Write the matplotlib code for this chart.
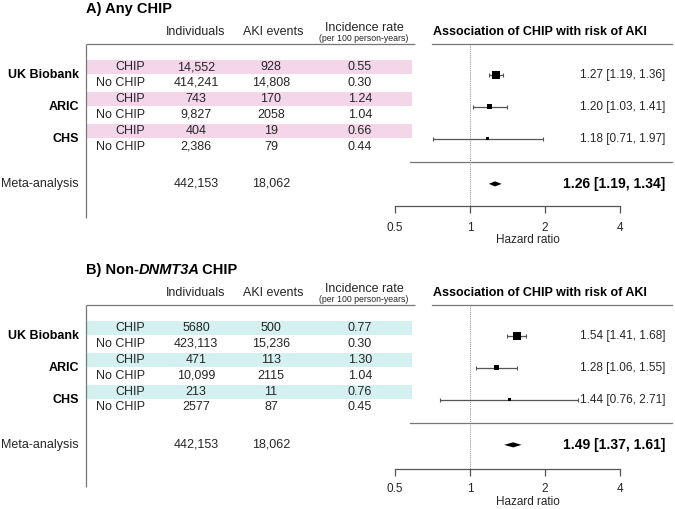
import matplotlib
matplotlib.use("Agg")
import matplotlib.pyplot as plt
import numpy as np
from matplotlib.ticker import FixedLocator, FixedFormatter, NullLocator

plt.rcParams['font.family'] = ['Liberation Sans', 'DejaVu Sans']

# ---------------- data ----------------
studies = ["UK Biobank", "ARIC", "CHS"]
groups = ["CHIP", "No CHIP"]
col_headers = ["Individuals", "AKI events", "Incidence rate"]
ir_sub = "(per 100 person-years)"
meta_label = "Meta-analysis"
forest_title = "Association of CHIP with risk of AKI"
xlabel = "Hazard ratio"
xticks = [0.5, 1, 2, 4]
xtick_labels = ["0.5", "1", "2", "4"]

a_title = "A) Any CHIP"
a_individuals = ["14,552", "414,241", "743", "9,827", "404", "2,386"]
a_events = ["928", "14,808", "170", "2058", "19", "79"]
a_ir = ["0.55", "0.30", "1.24", "1.04", "0.66", "0.44"]
a_meta_individuals = "442,153"
a_meta_events = "18,062"
a_hr = [1.27, 1.20, 1.18]
a_lo = [1.19, 1.03, 0.71]
a_hi = [1.36, 1.41, 1.97]
a_meta = [1.26, 1.19, 1.34]

b_title = ["B) Non-", "DNMT3A", " CHIP"]
b_individuals = ["5680", "423,113", "471", "10,099", "213", "2577"]
b_events = ["500", "15,236", "113", "2115", "11", "87"]
b_ir = ["0.77", "0.30", "1.30", "1.04", "0.76", "0.45"]
b_meta_individuals = "442,153"
b_meta_events = "18,062"
b_hr = [1.54, 1.28, 1.44]
b_lo = [1.41, 1.06, 0.76]
b_hi = [1.68, 1.55, 2.71]
b_meta = [1.49, 1.37, 1.61]

# ---------------- layout ----------------
W, H = 675, 509
UNIT = 15.9          # px per row
PX_PER_DOUBLING = 75
X_ONE = 470          # px of HR = 1
FX_LEFT, FX_RIGHT = 380, 675
TXT = '#262626'
LINE = '#777777'

fig = plt.figure(figsize=(W / 100, H / 100), dpi=100)


def panel(top, bottom, origin, title, individuals, events, ir, meta_ind, meta_ev,
          hr, lo, hi, meta, band_color, axis_row, vline_bottom, tick_pad, label_pad):
    r_top = (top - origin) / UNIT
    r_bot = (bottom - origin) / UNIT
    rect_y = 1 - bottom / H
    rect_h = (bottom - top) / H

    tab = fig.add_axes([0, rect_y, 1, rect_h])
    tab.set_xlim(0, W)
    tab.set_ylim(r_bot, r_top)
    tab.axis('off')

    rows = np.arange(len(individuals))
    chip_rows = rows[::2]
    centers = chip_rows + 0.5
    top_row = -1.45
    meta_row = 7.35

    # bands
    tab.barh(chip_rows, width=412 - 86, left=86, height=0.88, color=band_color,
             zorder=0, linewidth=0)
    tab.vlines(86, top_row, vline_bottom, color=LINE, lw=0.9)
    tab.hlines(top_row, 86, 415, color=LINE, lw=0.9)

    # title
    if isinstance(title, str):
        tab.text(86, -3.65, title, ha='left', va='center', fontsize=10.5,
                 fontweight='bold', color='black')
    else:
        t = tab.text(86, -3.65, title[0], ha='left', va='center', fontsize=10.5,
                     fontweight='bold', color='black')
        t2 = tab.annotate(title[1], xy=(1, 0), xycoords=t, ha='left', va='bottom',
                          fontsize=10.5, fontweight='bold', fontstyle='italic',
                          color='black')
        tab.annotate(title[2], xy=(1, 0), xycoords=t2, xytext=(-1.5, 0),
                     textcoords='offset points', ha='left', va='bottom',
                     fontsize=10.5, fontweight='bold', color='black')

    # headers
    tab.text(196, -2.17, col_headers[0], ha='center', va='center', fontsize=9, color=TXT)
    tab.text(273, -2.17, col_headers[1], ha='center', va='center', fontsize=9, color=TXT)
    tab.text(364, -2.45, col_headers[2], ha='center', va='center', fontsize=9, color=TXT)
    tab.text(364, -1.78, ir_sub, ha='center', va='center', fontsize=6.3, color=TXT)

    for i in rows:
        tab.text(145, i, groups[i % 2], ha='right', va='center', fontsize=9, color=TXT)
        tab.text(196, i, individuals[i], ha='center', va='center', fontsize=9, color=TXT)
        tab.text(271, i, events[i], ha='center', va='center', fontsize=9, color=TXT)
        tab.text(360, i, ir[i], ha='center', va='center', fontsize=9, color=TXT)
    for c, s in zip(centers, studies):
        tab.text(79, c, s, ha='right', va='center', fontsize=9, fontweight='bold',
                 color='black')
    tab.text(79, meta_row, meta_label, ha='right', va='center', fontsize=9, color=TXT)
    tab.text(196, meta_row, meta_ind, ha='center', va='center', fontsize=9, color=TXT)
    tab.text(271, meta_row, meta_ev, ha='center', va='center', fontsize=9, color=TXT)

    # forest
    fx = fig.add_axes([FX_LEFT / W, rect_y, (FX_RIGHT - FX_LEFT) / W, rect_h])
    fx.set_facecolor('none')
    fx.set_xscale('log')
    fx.set_xlim(2 ** ((FX_LEFT - X_ONE) / PX_PER_DOUBLING),
                2 ** ((FX_RIGHT - X_ONE) / PX_PER_DOUBLING))
    fx.set_ylim(r_bot, r_top)
    for side in ['top', 'left', 'right']:
        fx.spines[side].set_visible(False)
    fx.spines['bottom'].set_position(('data', axis_row))
    fx.spines['bottom'].set_bounds(xticks[0], xticks[-1])
    fx.spines['bottom'].set_color('#555555')
    fx.spines['bottom'].set_linewidth(0.9)
    fx.xaxis.set_major_locator(FixedLocator(xticks))
    fx.xaxis.set_major_formatter(FixedFormatter(xtick_labels))
    fx.xaxis.set_minor_locator(NullLocator())
    fx.tick_params(axis='x', direction='out', length=5, width=0.9, color='#555555',
                   pad=tick_pad, labelsize=8.5, labelcolor=TXT)
    fx.set_yticks([])
    fx.set_xlabel(xlabel, fontsize=8.5, labelpad=label_pad, color=TXT)

    frac = lambda px: (px - FX_LEFT) / (FX_RIGHT - FX_LEFT)
    fx.axhline(top_row, xmin=frac(432), xmax=frac(672), color=LINE, lw=0.9)
    fx.axhline(6, xmin=frac(410), xmax=frac(672), color=LINE, lw=0.9)
    fx.vlines(1, top_row, axis_row, colors='#888888', linestyles=(0, (1, 1.2)), lw=0.7)

    hr = np.array(hr); lo = np.array(lo); hi = np.array(hi)
    fx.errorbar(hr, centers, xerr=[hr - lo, hi - hr], fmt='none', ecolor='#555555',
                elinewidth=0.9, capsize=1.6, capthick=0.8, zorder=2)
    se = (np.log(hi) - np.log(lo)) / 3.92
    side_px = 8 * np.sqrt(se.min() / se)
    fx.scatter(hr, centers, marker='s', s=(side_px * 0.72) ** 2, color='black',
               zorder=3, linewidths=0)
    m, ml, mh = meta
    h = 0.16
    fx.fill([ml, m, mh, m], [meta_row, meta_row - h, meta_row, meta_row + h],
            color='black', zorder=3, linewidth=0)

    tx = frac(665)
    for c, e, l, u in zip(centers, hr, lo, hi):
        fx.text(tx, c, f"{e:.2f} [{l:.2f}, {u:.2f}]", transform=fx.get_yaxis_transform(),
                ha='right', va='center', fontsize=8.5, color=TXT)
    fx.text(tx, meta_row, f"{m:.2f} [{ml:.2f}, {mh:.2f}]",
            transform=fx.get_yaxis_transform(), ha='right', va='center', fontsize=10,
            fontweight='bold', color='black')
    fx.text(frac(540), -2.17, forest_title, transform=fx.get_yaxis_transform(),
            ha='center', va='center', fontsize=9, fontweight='bold', color='black')


panel(0, 250, 67, a_title, a_individuals, a_events, a_ir, a_meta_individuals,
      a_meta_events, a_hr, a_lo, a_hi, a_meta, '#F3D6E8', 8.74, 9.5, 6.5, 0)
panel(250, 509, 328, b_title, b_individuals, b_events, b_ir, b_meta_individuals,
      b_meta_events, b_hr, b_lo, b_hi, b_meta, '#D5F0F1', 8.87, 10.0, 5, 0.5)

fig.savefig("out.png", dpi=100)
